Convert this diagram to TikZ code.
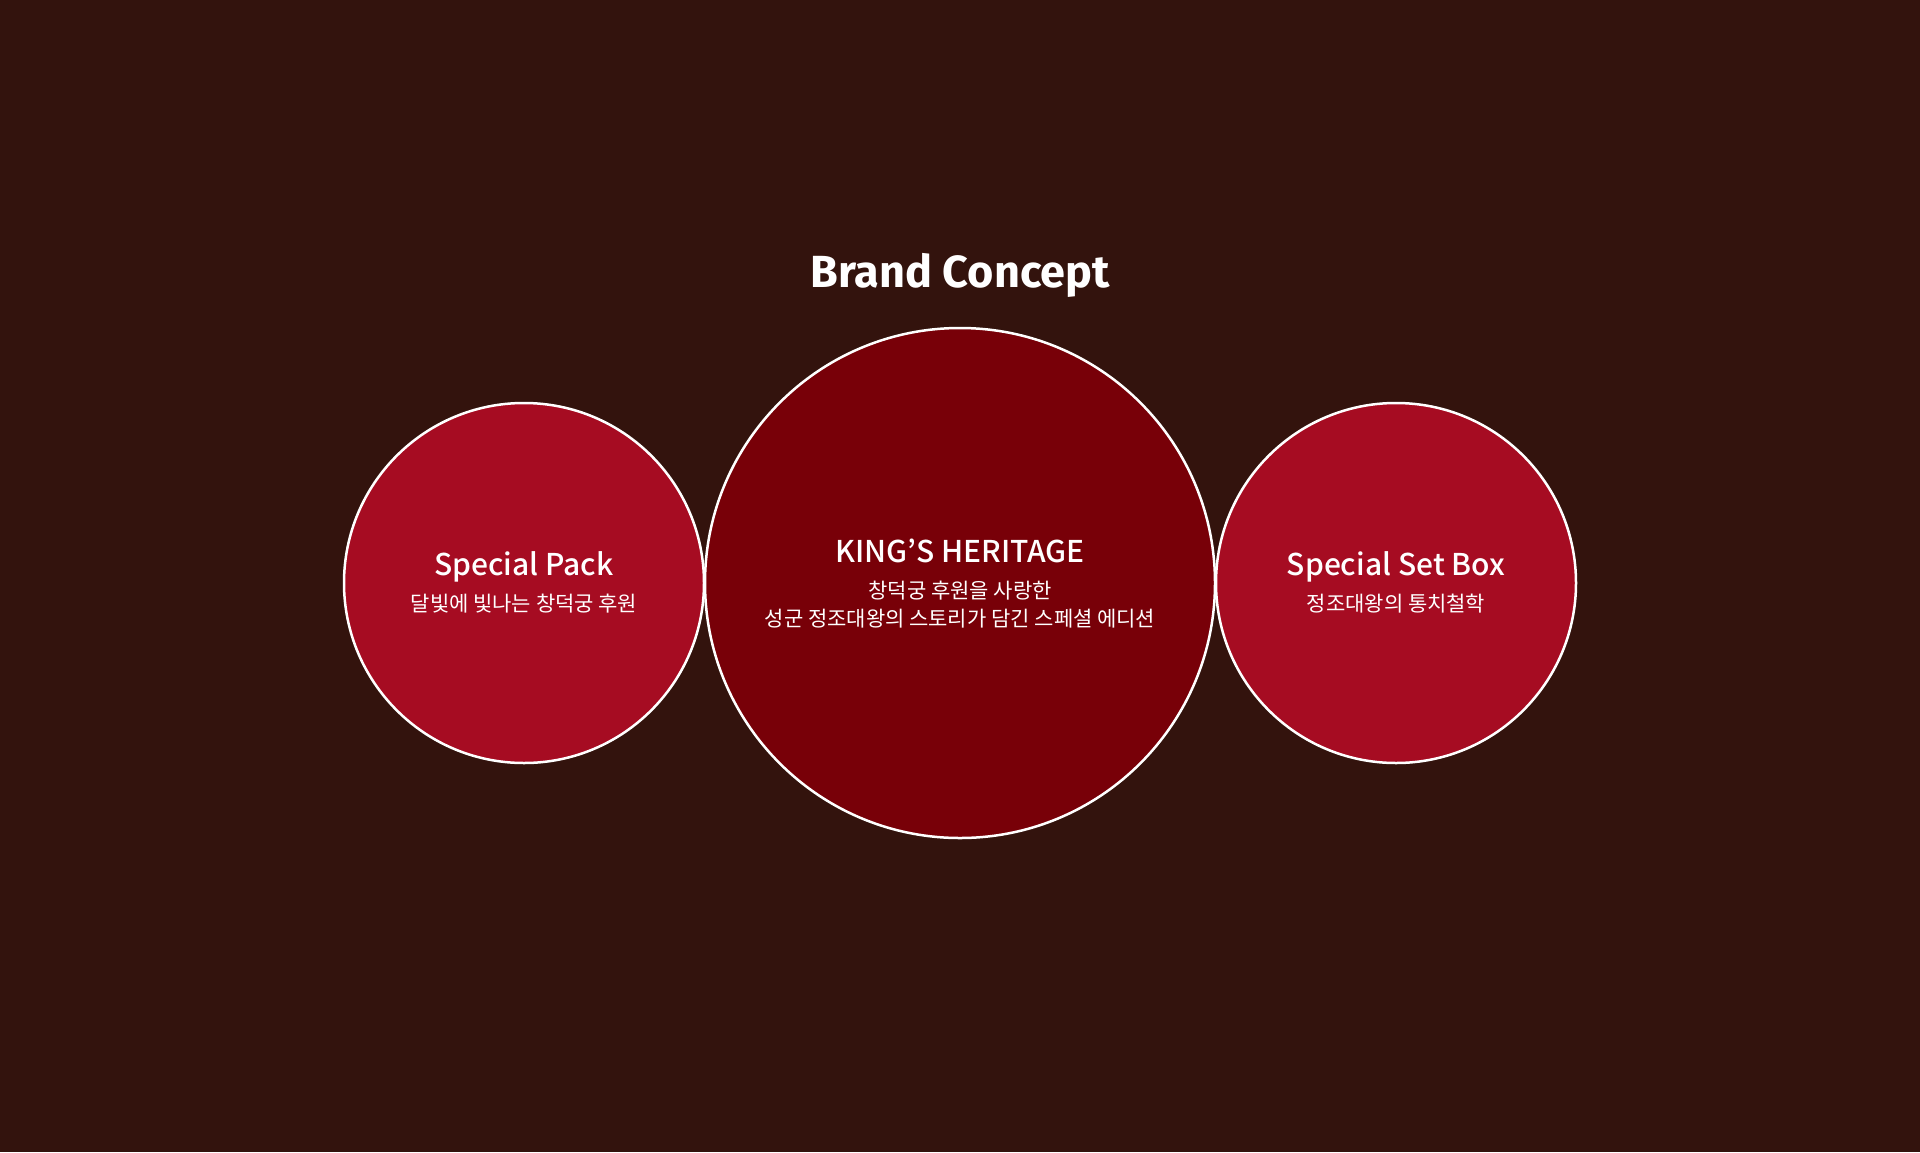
\documentclass[tikz,border=0pt]{standalone}
\usepackage{fontspec}
\setmainfont{Noto Sans CJK KR}
\newfontfamily\medfont{Noto Sans CJK KR Medium}
\newfontfamily\headfont{Fira Sans}
\usetikzlibrary{positioning}

\definecolor{bgbrown}{RGB}{51,19,13}
\definecolor{sidered}{RGB}{166,12,34}
\definecolor{mainred}{RGB}{120,0,8}

\tikzset{
  ring/.style={circle, draw=white, line width=2.5pt, inner sep=0pt},
  sidering/.style={ring, fill=sidered, minimum size=360pt},
  mainring/.style={ring, fill=mainred, minimum size=510pt},
  headtext/.style={text=white, anchor=base, inner sep=0pt, font=\medfont\fontsize{30}{36}\selectfont},
  subtext/.style={text=white, anchor=base, inner sep=0pt, font=\fontsize{21}{26}\selectfont}
}

\begin{document}
\begin{tikzpicture}[x=1pt, y=-1pt]
\fill [bgbrown] (0,0) rectangle (1920,1152);
\node [text=white, anchor=base, inner sep=0pt, font=\headfont\bfseries\fontsize{45}{50}\selectfont] (brand) at (960,287) {Brand Concept};

% circles
\node [sidering] (pack) at (524,583) {};
\node [sidering] (setbox) at (1396,583) {};
\node [mainring] (heritage) at (960,583) {};

% left
\node [headtext] (packtitle) at (524,575) {Special Pack};
\node [subtext] (packsub) at (524,611) {달빛에 빛나는 창덕궁 후원};

% middle
\node [headtext] (heritagetitle) at (960,562) {KING’S HERITAGE};
\node [subtext] (heritagesuba) at (960,598) {창덕궁 후원을 사랑한};
\node [subtext] (heritagesubb) at (960,626) {성군 정조대왕의 스토리가 담긴 스페셜 에디션};

% right
\node [headtext] (setboxtitle) at (1396,575) {Special Set Box};
\node [subtext] (setboxsub) at (1396,611) {정조대왕의 통치철학};
\end{tikzpicture}
\end{document}
